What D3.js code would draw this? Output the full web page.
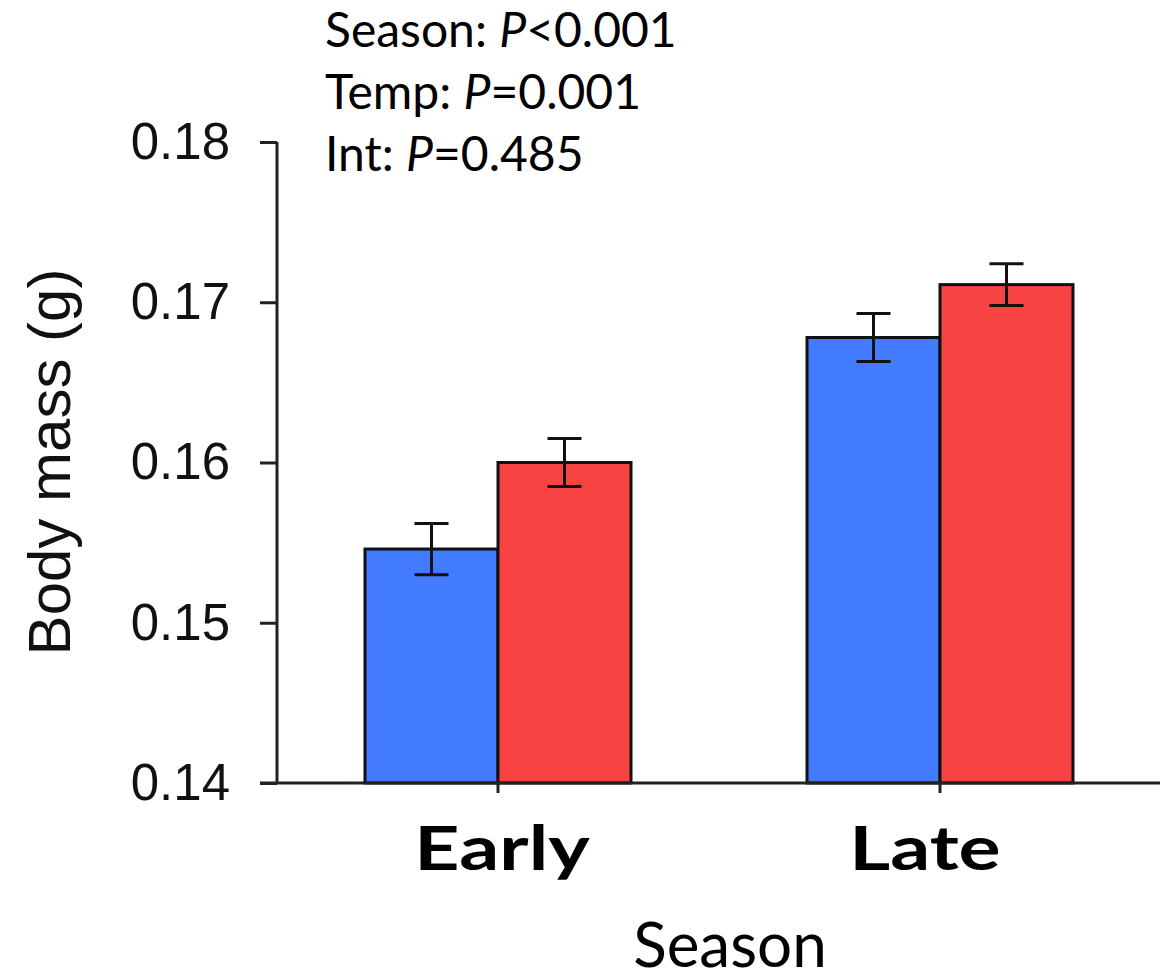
<!DOCTYPE html>
<html>
<head>
<meta charset="utf-8">
<script src="https://cdn.jsdelivr.net/npm/d3@7"></script>
<style>
	body { margin: 0; background: #fff; }
	svg { display: block; }
</style>
</head>
<body>
<div id="chart"></div>
<script>
const seasons = ["Early", "Late"];
const temps = ["Cool", "Warm"];
const temp_colors = ["#437bff", "#f84343"];
// mean body mass (g) per season, one array per temperature
const mass_cool = [0.1546, 0.1678];
const mass_warm = [0.1600, 0.1711];
// standard error
const se_cool = [0.0016, 0.0015];
const se_warm = [0.0015, 0.0013];
const y_ticks = [0.14, 0.15, 0.16, 0.17, 0.18];
const stats_lines = [["Season: ", "<0.001"], ["Temp: ", "=0.001"], ["Int: ", "=0.485"]];

const data = [];
seasons.forEach((s, i) => {
	data.push({ season: s, temp: temps[0], mean: mass_cool[i], se: se_cool[i] });
	data.push({ season: s, temp: temps[1], mean: mass_warm[i], se: se_warm[i] });
});

const svg = d3.select("#chart").append("svg")
	.attr("width", 1160)
	.attr("height", 979);

const xs = d3.scaleBand().domain(seasons).range([277, 1161]);
const xt = d3.scaleBand().domain(temps).range([0, 266]);
const ys = d3.scaleLinear().domain([0.14, 0.18]).range([783, 142]);
const cs = d3.scaleOrdinal().domain(temps).range(temp_colors);

const barX = d => xs(d.season) + xs.bandwidth() / 2 - 133 + xt(d.temp);

// bars
svg.append("g")
	.selectAll("rect")
	.data(data).enter().append("rect")
		.attr("x", barX)
		.attr("y", d => ys(d.mean))
		.attr("width", xt.bandwidth())
		.attr("height", d => ys(0.14) - ys(d.mean))
		.style("fill", d => cs(d.temp))
		.style("stroke", "#111")
		.style("stroke-width", 3);

// error bars
const err = svg.append("g")
	.selectAll("g")
	.data(data).enter().append("g")
		.attr("transform", d => "translate(" + (barX(d) + xt.bandwidth() / 2) + ",0)")
		.style("stroke", "#111")
		.style("stroke-width", 3);
err.append("line")
	.attr("x1", 0).attr("x2", 0)
	.attr("y1", d => ys(d.mean + d.se))
	.attr("y2", d => ys(d.mean - d.se));
err.append("line")
	.attr("x1", -17).attr("x2", 17)
	.attr("y1", d => ys(d.mean + d.se))
	.attr("y2", d => ys(d.mean + d.se));
err.append("line")
	.attr("x1", -17).attr("x2", 17)
	.attr("y1", d => ys(d.mean - d.se))
	.attr("y2", d => ys(d.mean - d.se));

// y axis
const yAxis = svg.append("g")
	.attr("transform", "translate(277,0)")
	.call(d3.axisLeft(ys)
		.tickValues(y_ticks)
		.tickSize(17)
		.tickPadding(30)
		.tickFormat(d3.format(".2f")));
yAxis.select(".domain").remove();
yAxis.append("line")
	.attr("x1", 0).attr("x2", 0)
	.attr("y1", ys(0.18)).attr("y2", ys(0.14));
yAxis.selectAll("line").style("stroke", "#222").style("stroke-width", 3);
yAxis.selectAll("text")
	.style("font-family", "'Liberation Sans', Arial, sans-serif")
	.style("font-size", "51px")
	.style("fill", "#111");

// x axis
const xAxis = svg.append("g")
	.attr("transform", "translate(0,783)")
	.call(d3.axisBottom(xs).tickSize(10).tickFormat(""));
xAxis.select(".domain").remove();
xAxis.append("line")
	.attr("x1", 260).attr("x2", 1160)
	.attr("y1", 0).attr("y2", 0);
xAxis.selectAll("line").style("stroke", "#222").style("stroke-width", 3);

// season labels
svg.append("g")
	.selectAll("text")
	.data(seasons).enter().append("text")
		.attr("transform", (d, i) => "translate(" + (xs(d) + xs.bandwidth() / 2 + (i ? -15 : 4)) + ",870) scale(1.27,1)")
		.attr("text-anchor", "middle")
		.style("font-family", "Lato, sans-serif")
		.style("font-weight", "bold")
		.style("font-size", "62px")
		.style("fill", "#000")
		.text(d => d);

// axis titles
svg.append("text")
	.attr("x", 730)
	.attr("y", 967)
	.attr("text-anchor", "middle")
	.style("font-family", "Lato, sans-serif")
	.style("font-size", "62px")
	.style("fill", "#000")
	.text("Season");

svg.append("text")
	.attr("transform", "translate(70,462) rotate(-90)")
	.attr("text-anchor", "middle")
	.style("font-family", "'Liberation Sans', Arial, sans-serif")
	.style("font-size", "60px")
	.style("fill", "#111")
	.text("Body mass (g)");

// statistics
const stats = svg.append("g")
	.selectAll("text")
	.data(stats_lines).enter().append("text")
		.attr("x", 325)
		.attr("y", (d, i) => 47 + i * 62)
		.style("font-family", "Lato, sans-serif")
		.style("font-size", "48px")
		.style("fill", "#000");
stats.append("tspan").text(d => d[0]);
stats.append("tspan").style("font-style", "italic").text("P");
stats.append("tspan").text(d => d[1]);
</script>
</body>
</html>
